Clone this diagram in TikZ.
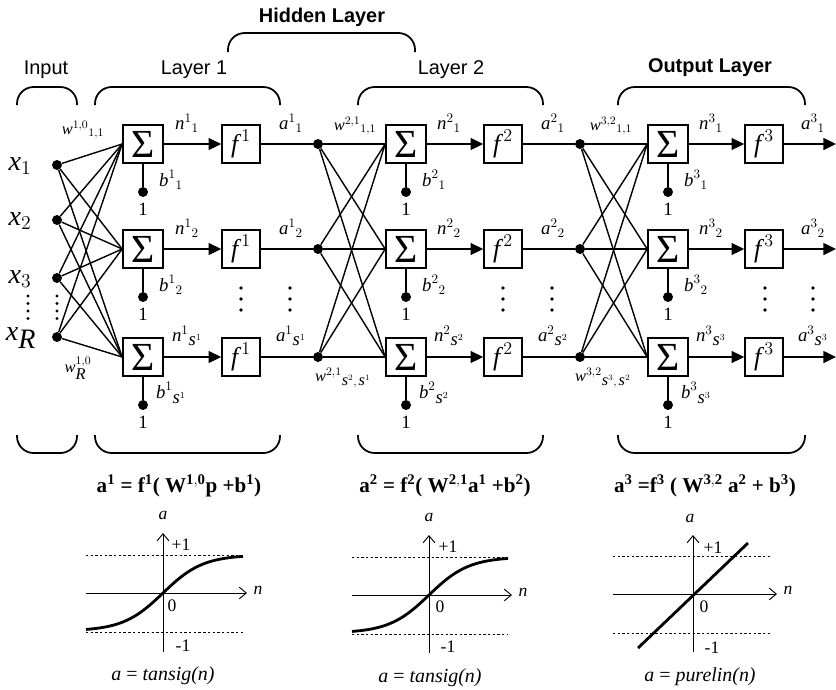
\documentclass[tikz,border=0pt]{standalone}
\usepackage{fix-cm}
\usepackage{fontspec}
\setmainfont{Liberation Serif}
\setsansfont{Liberation Sans}
\usepackage{tikz}
\usetikzlibrary{arrows.meta,calc}

\tikzset{
  blob/.style={circle,fill=black,inner sep=0pt,minimum size=8.5pt},
  sumbox/.style={draw,line width=1.4pt,minimum width=1.2cm,minimum height=1.14cm,inner sep=0pt,font=\fontsize{34}{34}\selectfont},
  actbox/.style={draw,line width=1.4pt,minimum width=1.14cm,minimum height=1.14cm,inner sep=0pt,font=\fontsize{22}{22}\selectfont},
  wire/.style={line width=1.2pt},
  feed/.style={wire,-{Triangle[length=0.38cm,width=0.36cm]}},
  layerbrace/.style={line width=1.5pt,rounded corners=0.5cm},
  toplbl/.style={font=\sffamily\fontsize{17}{20}\selectfont,inner sep=0pt},
  headlbl/.style={font=\sffamily\bfseries\fontsize{17}{20}\selectfont,inner sep=0pt},
  xlbl/.style={font=\fontsize{24}{28}\selectfont,inner sep=0pt},
  lbl/.style={font=\fontsize{16}{19}\selectfont,inner sep=0pt},
  wlbl/.style={font=\fontsize{14}{16}\selectfont,inner sep=0pt},
  onelbl/.style={font=\fontsize{16}{19}\selectfont,inner sep=0pt},
  eqn/.style={font=\bfseries\fontsize{18}{21}\selectfont,inner sep=0pt},
  axisline/.style={line width=0.8pt,-{Straight Barb[length=6pt,width=10pt]}},
  limit/.style={line width=0.7pt,dash pattern=on 2pt off 2pt},
  curve/.style={line width=2.4pt},
  axlbl/.style={font=\fontsize{15}{18}\selectfont,inner sep=0pt},
  caption/.style={font=\fontsize{17}{20}\selectfont,inner sep=0pt}
}

% rounded layer bracket: x-left, x-right, y of the ends, y of the bar
\newcommand{\layercap}[4]{\draw[layerbrace] (#1,#3) -- (#1,#4) -- (#2,#4) -- (#2,#3);}

\begin{document}
\begin{tikzpicture}[x=0.03cm,y=-0.03cm]
\useasboundingbox (0,0) rectangle (836,689);

% headings and brackets
\node[headlbl] (hidden) at (322,17) {Hidden Layer};
\node[toplbl] (inputlbl) at (46,70) {Input};
\node[toplbl] (layer1lbl) at (194,70) {Layer 1};
\node[toplbl] (layer2lbl) at (451,70) {Layer 2};
\node[headlbl] (outlbl) at (710,68) {Output Layer};
\layercap{228}{415}{52}{33}
\layercap{17}{77}{105}{87}
\layercap{95}{280}{105}{87}
\layercap{358}{543}{105}{87}
\layercap{618}{805}{105}{87}
\layercap{17}{77}{435}{453}
\layercap{95}{280}{435}{453}
\layercap{358}{543}{435}{453}
\layercap{618}{805}{435}{453}

% inputs
\node[blob] (in1) at (57,165) {};
\node[blob] (in2) at (57,220) {};
\node[blob] (in3) at (57,278) {};
\node[blob] (in4) at (57,337) {};
\node[xlbl] (x1) at (20,166) {$\textit{x}_{1}$};
\node[xlbl] (x2) at (20,221) {$\textit{x}_{2}$};
\node[xlbl] (x3) at (20,279) {$\textit{x}_{3}$};
\node[xlbl] (xR) at (21,338) {$\textit{x}_{\textit{R}}$};
\foreach \x in {28,57}
  \foreach \d in {296,303.5,311,318.5}
    \fill (\x,\d) circle[radius=1.4pt];

% layer 1
\foreach \r/\y/\k in {1/144/1,2/249/2,3/357/\textit{s}^{1}} {
  \node[sumbox] (sum1\r) at (143,\y) {Σ};
  \node[actbox] (act1\r) at (241,\y) {$\textit{f}^{\,1}$};
  \node[blob] (bias1\r) at (143,\y+48) {};
  \node[onelbl] (one1\r) at (143,\y+65) {1};
  \node[blob] (hid1\r) at (318,\y) {};
  \draw[feed] (sum1\r) -- (act1\r);
  \draw[wire] (act1\r) -- (hid1\r);
  \draw[wire] (sum1\r) -- (bias1\r);
  \node[lbl] at (187,\y-21) {$\textit{n}^{1}{}_{\k}$};
  \node[lbl] at (291,\y-21) {$\textit{a}^{1}{}_{\k}$};
  \node[lbl] at (171,\y+36) {$\textit{b}^{1}{}_{\k}$};
}
\foreach \i in {1,...,4}
  \foreach \r in {1,2,3}
    \draw[wire] (in\i) -- (sum1\r.west);
\node[wlbl] at (83,130) {$\textit{w}^{1,0}{}_{1,1}$};
\node[wlbl] at (78,368) {$\textit{w}^{1,0}_{\textit{R}}$};

% layer 2
\foreach \r/\y/\k in {1/144/1,2/249/2,3/357/\textit{s}^{2}} {
  \node[sumbox] (sum2\r) at (406,\y) {Σ};
  \node[actbox] (act2\r) at (503,\y) {$\textit{f}^{\,2}$};
  \node[blob] (bias2\r) at (406,\y+48) {};
  \node[onelbl] (one2\r) at (406,\y+65) {1};
  \node[blob] (hid2\r) at (580,\y) {};
  \draw[feed] (sum2\r) -- (act2\r);
  \draw[wire] (act2\r) -- (hid2\r);
  \draw[wire] (sum2\r) -- (bias2\r);
  \node[lbl] at (449,\y-21) {$\textit{n}^{2}{}_{\k}$};
  \node[lbl] at (553,\y-21) {$\textit{a}^{2}{}_{\k}$};
  \node[lbl] at (434,\y+36) {$\textit{b}^{2}{}_{\k}$};
}
\foreach \i in {1,2,3}
  \foreach \r in {1,2,3}
    \draw[wire] (hid1\i) -- (sum2\r.west);
\node[wlbl] at (355,126) {$\textit{w}^{2,1}{}_{1,1}$};
\node[wlbl] at (343,378) {$\textit{w}^{2,1}{}_{\textit{s}^{2},\,\textit{s}^{1}}$};

% output layer
\foreach \r/\y/\k in {1/144/1,2/249/2,3/357/\textit{s}^{3}} {
  \node[sumbox] (sum3\r) at (668,\y) {Σ};
  \node[actbox] (act3\r) at (764,\y) {$\textit{f}^{\,3}$};
  \node[blob] (bias3\r) at (668,\y+48) {};
  \node[onelbl] (one3\r) at (668,\y+65) {1};
  \coordinate (end3\r) at (836,\y);
  \draw[feed] (sum3\r) -- (act3\r);
  \draw[feed] (act3\r) -- (end3\r);
  \draw[wire] (sum3\r) -- (bias3\r);
  \node[lbl] at (711,\y-21) {$\textit{n}^{3}{}_{\k}$};
  \node[lbl] at (813,\y-21) {$\textit{a}^{3}{}_{\k}$};
  \node[lbl] at (696,\y+36) {$\textit{b}^{3}{}_{\k}$};
}
\foreach \i in {1,2,3}
  \foreach \r in {1,2,3}
    \draw[wire] (hid2\i) -- (sum3\r.west);
\node[wlbl] at (611,126) {$\textit{w}^{3,2}{}_{1,1}$};
\node[wlbl] at (603,378) {$\textit{w}^{3,2}{}_{\textit{s}^{3},\,\textit{s}^{2}}$};

% vertical ellipses between rows
\foreach \x in {241,290,503,552,765,813}
  \foreach \d in {288,299,310}
    \fill (\x,\d) circle[radius=1.6pt];

% layer equations
\node[eqn] (eq1) at (179,486) {a$^{\mathbf{1}}$ = f$^{\mathbf{1}}$( W$^{\mathbf{1,0}}$p +b$^{\mathbf{1}}$)};
\node[eqn] (eq2) at (445,486) {a$^{\mathbf{2}}$ = f$^{\mathbf{2}}$( W$^{\mathbf{2,1}}$a$^{\mathbf{1}}$ +b$^{\mathbf{2}}$)};
\node[eqn] (eq3) at (705,486) {a$^{\mathbf{3}}$ =f$^{\mathbf{3}}$ ( W$^{\mathbf{3,2}}$ a$^{\mathbf{2}}$ + b$^{\mathbf{3}}$)};

% transfer function 1
\draw[limit] (86,555) -- (243,555);
\draw[limit] (86,632) -- (243,632);
\draw[axisline] (163,652) -- (163,533);
\draw[axisline] (86,593) -- (247,593);
\draw[curve] plot[domain=-77:80,samples=60] ({163+\x},{593-38*tanh(\x/40)});
\node[axlbl] at (163,515) {\itshape a};
\node[axlbl] at (181,545) {+1};
\node[axlbl] at (172,606) {0};
\node[axlbl] at (183,646) {-1};
\node[axlbl] at (258,590) {\itshape n};
\node[caption] at (163,676) {{\itshape a} = {\itshape tansig(n)}};

% transfer function 2
\draw[limit] (352,557) -- (508,557);
\draw[limit] (352,634) -- (508,634);
\draw[axisline] (429,653) -- (429,535);
\draw[axisline] (352,595) -- (512,595);
\draw[curve] plot[domain=-77:79,samples=60] ({429+\x},{595-38*tanh(\x/40)});
\node[axlbl] at (429,517) {\itshape a};
\node[axlbl] at (448,547) {+1};
\node[axlbl] at (440,607) {0};
\node[axlbl] at (448,647) {-1};
\node[axlbl] at (523,592) {\itshape n};
\node[caption] at (430,678) {{\itshape a} = {\itshape tansig(n)}};

% transfer function 3
\draw[limit] (613,556) -- (772,556);
\draw[limit] (613,633) -- (772,633);
\draw[axisline] (693,652) -- (693,535);
\draw[axisline] (613,594) -- (777,594);
\draw[curve] (638,648) -- (748,543);
\node[axlbl] at (690,518) {\itshape a};
\node[axlbl] at (713,548) {+1};
\node[axlbl] at (704,607) {0};
\node[axlbl] at (712,648) {-1};
\node[axlbl] at (788,590) {\itshape n};
\node[caption] at (700,677) {{\itshape a} = {\itshape purelin(n)}};
\end{tikzpicture}
\end{document}
